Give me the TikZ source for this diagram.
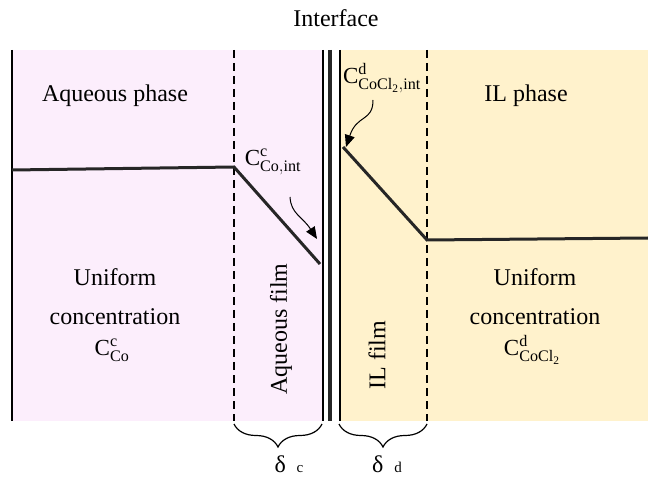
\documentclass[tikz,border=0pt]{standalone}
\usepackage{fontspec}
\setmainfont{Liberation Serif}
\usetikzlibrary{decorations.pathreplacing,arrows.meta}
\definecolor{pinkbg}{RGB}{252,238,252}
\definecolor{yellowbg}{RGB}{255,242,204}
\definecolor{ink}{RGB}{38,38,38}
\tikzset{
  lbl/.style={font=\fontsize{24}{26}\selectfont, align=center, inner sep=0pt},
  clbl/.style={font=\fontsize{23}{26}\selectfont, inner sep=0pt},
  conc/.style={draw=ink, line width=3pt, line join=miter},
  film/.style={draw=black, line width=1.8pt, dash pattern=on 8pt off 5pt},
  wall/.style={draw=black, line width=2.2pt},
  curvarrow/.style={draw=black, line width=1pt, -{Triangle[length=12pt,width=10pt]}},
  bracestyle/.style={draw=black, line width=1.2pt, decorate, decoration={brace,mirror,amplitude=23pt}}
}
\begin{document}
\begin{tikzpicture}[x=1pt,y=-1pt]
\useasboundingbox (0,0) rectangle (648,478);
% backgrounds
\fill[pinkbg] (12,50) rectangle (323,421);
\fill[yellowbg] (340,50) rectangle (648,421);
% walls
\draw[wall] (12,50) -- (12,421);
\draw[draw=black, line width=1.6pt] (323,50) -- (323,421);
\draw[draw=ink, line width=4.5pt] (330,50) -- (330,421);
\draw[draw=black, line width=1.6pt] (340,50) -- (340,421);
% film boundaries
\draw[film] (234,50) -- (234,421);
\draw[film] (427,50) -- (427,421);
% concentration profiles
\coordinate (aL) at (12,170);
\coordinate (aI) at (234,167);
\coordinate (aE) at (320,264);
\coordinate (bS) at (343,147);
\coordinate (bK) at (427,240);
\coordinate (bR) at (648,238);
\draw[conc] (aL) -- (aI) -- (aE);
\draw[conc] (bS) -- (bK) -- (bR);
% texts
\node[lbl] (iface) at (336,18) {Interface};
\node[lbl] (aqp) at (115,96) {Aqueous phase};
\node[lbl] (ilp) at (526,96) {IL phase};
\node[lbl] (u1) at (115,277) {Uniform};
\node[lbl] (cc1) at (115,317) {concentration};
\node[clbl] (c1) at (112,350) {$\mathrm{C}^{\mathrm{c}}_{\mathrm{Co}}$};
\node[lbl] (u2) at (535,277) {Uniform};
\node[lbl] (cc2) at (535,317) {concentration};
\node[clbl] (c2) at (532,350) {$\mathrm{C}^{\mathrm{d}}_{\mathrm{CoCl_2}}$};
\node[lbl, rotate=90] (aqf) at (281,329) {Aqueous film};
\node[lbl, rotate=90] (ilf) at (377,355) {IL film};
\node[clbl] (cint1) at (273,162) {$\mathrm{C}^{\mathrm{c}}_{\mathrm{Co,int}}$};
\node[clbl] (cint2) at (382,78) {$\mathrm{C}^{\mathrm{d}}_{\mathrm{CoCl_2,int}}$};
% curved arrows
\coordinate (s1) at (290,197);
\coordinate (t1) at (317,239);
\draw[curvarrow] (s1) .. controls (291,214) and (302,216) .. (t1);
\coordinate (s2) at (373,100);
\coordinate (t2) at (346,147);
\draw[curvarrow] (s2) .. controls (373,122) and (357,114) .. (t2);
% braces
\coordinate (b1a) at (234,424);
\coordinate (b1b) at (322,424);
\coordinate (b2a) at (339,424);
\coordinate (b2b) at (427,424);
\draw[bracestyle] (b1a) -- (b1b);
\draw[bracestyle] (b2a) -- (b2b);
\node[lbl] (dc) at (289,464) {δ\hspace{0.45em}{\fontsize{15}{15}\selectfont c}};
\node[lbl] (dd) at (387,464) {δ\hspace{0.45em}{\fontsize{15}{15}\selectfont d}};
\end{tikzpicture}
\end{document}
